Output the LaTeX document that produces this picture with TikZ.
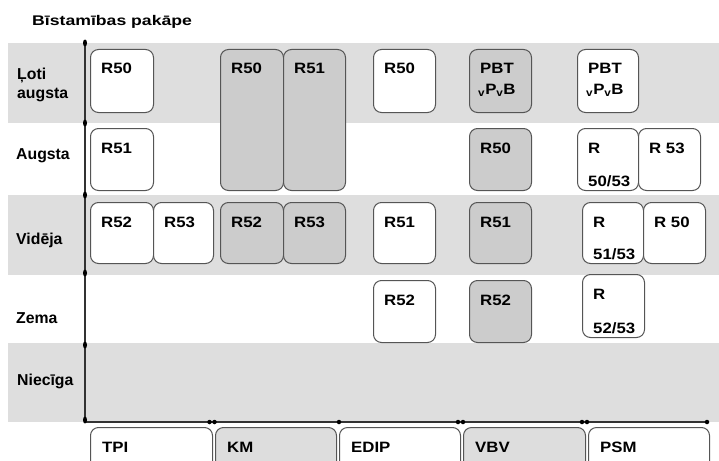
\documentclass[tikz,border=0pt]{standalone}
\usepackage{fontspec}
\setmainfont{Liberation Sans}
\newfontfamily\boxfont[FakeStretch=1.12]{Liberation Sans}
\newfontfamily\titlefont[FakeStretch=1.26]{Liberation Sans}
\usetikzlibrary{calc,shapes.geometric}
\definecolor{bandgray}{HTML}{DEDEDE}
\definecolor{boxgray}{HTML}{CCCCCC}
\definecolor{tabgray}{HTML}{DDDDDD}
\definecolor{boxline}{HTML}{555555}
\definecolor{axisline}{HTML}{333333}
\newcommand\rb[7]{%
  \node[rbox, fill=#6, minimum width=#4pt, minimum height=#5pt, anchor=north west] (#1) at (#2,#3) {};
  \node[btxt, anchor=base west] (#1t) at ($(#1.north west)+(11,25)$) {#7};
}
\newcommand\rbtwo[8]{%
  \node[rbox, fill=#6, minimum width=#4pt, minimum height=#5pt, anchor=north west] (#1) at (#2,#3) {};
  \node[btxt, anchor=base west] (#1t) at ($(#1.north west)+(11,25)$) {#7};
  \node[btxt, anchor=base west] (#1u) at ($(#1.south west)+(11,-5)$) {#8};
}
\newcommand\rbpbt[6]{%
  \node[rbox, fill=#6, minimum width=#4pt, minimum height=#5pt, anchor=north west] (#1) at (#2,#3) {};
  \node[btxt, anchor=base west] (#1t) at ($(#1.north west)+(11,24)$) {PBT};
  \node[btxt, anchor=base west, inner xsep=0pt] (#1u) at ($(#1.north west)+(9,45)$) {\textsubscript{v}P\textsubscript{v}B};
}
\newcommand\tab[5]{%
  \node[rbox, fill=#4, minimum width=#3pt, minimum height=45pt, anchor=north west] (#1) at (#2,427) {};
  \node[btxt, anchor=base west] (#1t) at ($(#1.north west)+(12,25)$) {#5};
}
\begin{document}
\begin{tikzpicture}[x=1pt,y=-1pt,
  rbox/.style={draw=boxline, line width=1pt, rounded corners=8pt, inner sep=0pt},
  btxt/.style={font=\boxfont\fontsize{15}{18}\selectfont\bfseries, inner sep=0pt},
  lbl/.style={font=\fontsize{15.8}{19}\selectfont\bfseries, inner sep=0pt, align=left},
  ttl/.style={font=\titlefont\fontsize{14}{17}\selectfont\bfseries, inner sep=0pt},
  axis/.style={draw=axisline, line width=1.2pt},
  vdot/.style={fill=black, draw=none, ellipse, minimum width=4pt, minimum height=7pt, inner sep=0pt},
  hdot/.style={fill=black, draw=none, circle, minimum size=4.5pt, inner sep=0pt}]
\useasboundingbox (0,0) rectangle (719,460);
\begin{scope}
\clip (0,0) rectangle (719,460);
% bands
\fill[bandgray] (8,43) rectangle (719,123);
\fill[bandgray] (8,195) rectangle (719,275);
\fill[bandgray] (8,343) rectangle (719,422);
% title
\node[ttl, anchor=base west] (title) at (32,26) {Bīstamības pakāpe};
% row labels
\node[lbl, anchor=base west] (l1) at (17,79) {Ļoti};
\node[lbl, anchor=base west] (l1b) at (17,98) {augsta};
\node[lbl, anchor=base west] (l2) at (16,159) {Augsta};
\node[lbl, anchor=base west] (l3) at (16,244) {Vidēja};
\node[lbl, anchor=base west] (l4) at (16,323) {Zema};
\node[lbl, anchor=base west] (l5) at (17,385) {Niecīga};
% row 1
\rb{tpiA}{90}{49}{63}{63}{white}{R50}
\rb{kmA}{220}{49}{63}{141}{boxgray}{R50}
\rb{kmB}{283}{49}{62}{141}{boxgray}{R51}
\rb{edipA}{373}{49}{62}{63}{white}{R50}
\rbpbt{vbvA}{469}{49}{62}{63}{boxgray}
\rbpbt{psmA}{577}{49}{61}{63}{white}
% row 2
\rb{tpiB}{90}{128}{63}{62}{white}{R51}
\rb{vbvB}{469}{128}{62}{62}{boxgray}{R50}
\rbtwo{psmB}{577}{128}{61}{62}{white}{R}{50/53}
\rb{psmC}{638}{128}{62}{62}{white}{R 53}
% row 3
\rb{tpiC}{90}{202}{63}{61}{white}{R52}
\rb{tpiD}{153}{202}{60}{61}{white}{R53}
\rb{kmC}{220}{202}{63}{61}{boxgray}{R52}
\rb{kmD}{283}{202}{62}{61}{boxgray}{R53}
\rb{edipB}{373}{202}{62}{61}{white}{R51}
\rb{vbvC}{469}{202}{62}{61}{boxgray}{R51}
\rbtwo{psmD}{582}{202}{61}{61}{white}{R}{51/53}
\rb{psmE}{643}{202}{62}{61}{white}{R 50}
% row 4
\rb{edipC}{373}{280}{62}{62}{white}{R52}
\rb{vbvD}{469}{280}{62}{62}{boxgray}{R52}
\rbtwo{psmF}{582}{274}{62}{63}{white}{R}{52/53}
% tabs
\tab{tTPI}{90}{122}{white}{TPI}
\tab{tKM}{215}{121}{tabgray}{KM}
\tab{tEDIP}{339}{121}{white}{EDIP}
\tab{tVBV}{463}{122}{tabgray}{VBV}
\tab{tPSM}{588}{121}{white}{PSM}
% axes
\coordinate (o) at (85,422);
\coordinate (ytop) at (85,43);
\coordinate (xend) at (707,422);
\draw[axis] (ytop) -- (o) -- (xend);
\foreach \yy/\nm in {43/v1,123/v2,195/v3,273/v4,345/v5,420/v6}
  \node[vdot] (\nm) at (85,\yy) {};
\foreach \xx/\nm in {209.5/h1,214.5/h2,339/h3,458/h4,463/h5,582/h6,587/h7,707/h8}
  \node[hdot] (\nm) at (\xx,422) {};
\end{scope}
\end{tikzpicture}
\end{document}
